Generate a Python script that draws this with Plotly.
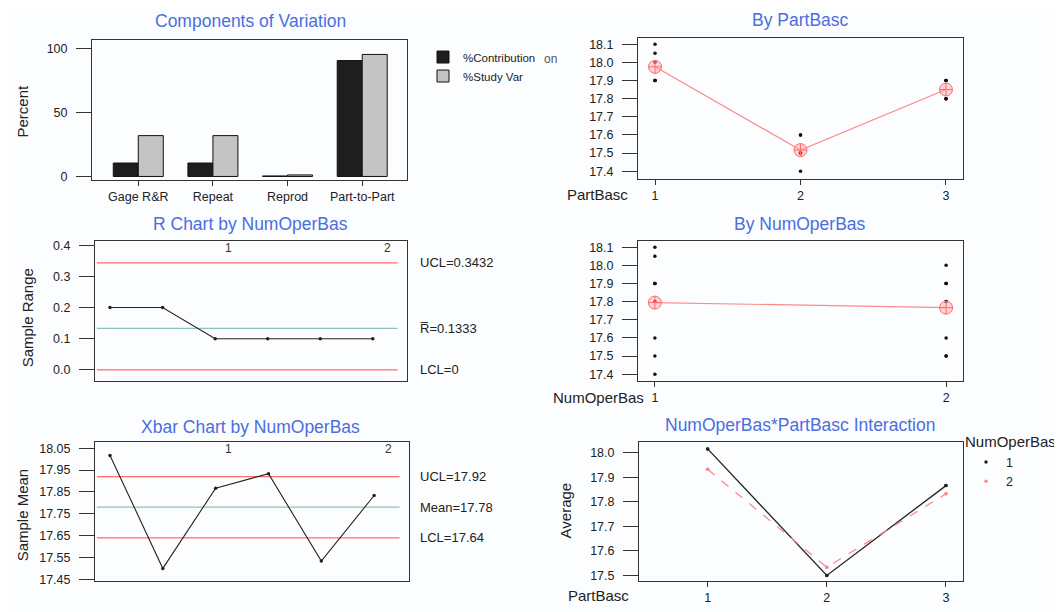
import plotly.graph_objects as go

# page body has an 8px margin, so the figure is drawn 8px smaller and shifted
OFF = 8
W, H = 1062 - OFF, 612 - OFF

# ---------------- data ----------------
components = ["Gage R&R", "Repeat", "Reprod", "Part-to-Part"]
pct_contribution = [10.5, 10.5, 0.4, 90.5]
pct_study_var = [31.9, 31.9, 1.2, 95.3]

parts = [1, 2, 3]
operators = [1, 2]
# trials for each operator, listed per part (part 1, part 2, part 3)
op1_trials = [[18.10, 18.05, 17.90], [17.60, 17.50, 17.40], [17.90, 17.90, 17.80]]
op2_trials = [[18.00, 17.90, 17.90], [17.60, 17.50, 17.50], [17.90, 17.80, 17.80]]

r_ucl, r_bar, r_lcl = 0.3432, 0.1333, 0.0
x_ucl, x_mean, x_lcl = 17.92, 17.78, 17.64
r_labels = ["UCL=0.3432", "R\u0305=0.1333", "LCL=0"]
x_labels = ["UCL=17.92", "Mean=17.78", "LCL=17.64"]

# ---------------- derived ----------------
trials_by_op = {1: op1_trials, 2: op2_trials}
sub_idx, sub_mean, sub_range = [], [], []
k = 1
for op in operators:
    for grp in trials_by_op[op]:
        sub_idx.append(k)
        sub_mean.append(sum(grp) / len(grp))
        sub_range.append(max(grp) - min(grp))
        k += 1

part_x, part_y, part_means = [], [], []
for i, p in enumerate(parts):
    vals = op1_trials[i] + op2_trials[i]
    part_x += [p] * len(vals)
    part_y += vals
    part_means.append(sum(vals) / len(vals))

op_x, op_y, op_means = [], [], []
for op in operators:
    vals = [v for grp in trials_by_op[op] for v in grp]
    op_x += [op] * len(vals)
    op_y += vals
    op_means.append(sum(vals) / len(vals))

inter_op1 = [sum(g) / len(g) for g in op1_trials]
inter_op2 = [sum(g) / len(g) for g in op2_trials]

# ---------------- styling helpers ----------------
BLUE = "#4a6ee0"
RED = "#ff6b6b"
TEAL = "#86c6b4"
SALMON = "#ff8a8a"
AX = "#333333"
FONT = "Liberation Sans, Arial, sans-serif"
TICK = 12.5


def px_x(a):
    return (a - OFF) / W


def px_y(a):
    return 1 - (a - OFF) / H


def dx(a, b):
    return [px_x(a), px_x(b)]


def dy(top, bottom):
    return [px_y(bottom), px_y(top)]


def base_axis(**kw):
    d = dict(showline=True, mirror=True, linecolor=AX, linewidth=1,
             showgrid=False, zeroline=False, ticks="outside", tickcolor=AX,
             tickwidth=1.2, tickfont=dict(size=TICK, color="#222", family=FONT))
    d.update(kw)
    return d


fig = go.Figure()

# Panel 1: components of variation
fig.add_trace(go.Bar(x=components, y=pct_contribution, name="%Contribution",
                     marker=dict(color="#1e1e1e", line=dict(color="#111", width=1)),
                     xaxis="x", yaxis="y", legend="legend"))
fig.add_trace(go.Bar(x=components, y=pct_study_var, name="%Study Var",
                     marker=dict(color="#c4c4c4", line=dict(color="#111", width=1)),
                     xaxis="x", yaxis="y", legend="legend"))

# Panel 2: by PartBasc
fig.add_trace(go.Scatter(x=part_x, y=part_y, mode="markers",
                         marker=dict(color="#111", size=3.5), showlegend=False,
                         xaxis="x2", yaxis="y2"))
fig.add_trace(go.Scatter(x=parts, y=part_means, mode="lines+markers",
                         line=dict(color=SALMON, width=1.2),
                         marker=dict(symbol="circle-cross", size=13,
                                     color="rgba(255,160,160,0.45)",
                                     line=dict(color=RED, width=1)),
                         showlegend=False, xaxis="x2", yaxis="y2"))

# Panel 3: R chart
fig.add_trace(go.Scatter(x=sub_idx, y=sub_range, mode="lines+markers",
                         line=dict(color="#222", width=1.1),
                         marker=dict(color="#222", size=3.5), showlegend=False,
                         xaxis="x3", yaxis="y3"))

# Panel 4: by NumOperBas
fig.add_trace(go.Scatter(x=op_x, y=op_y, mode="markers",
                         marker=dict(color="#111", size=3.5), showlegend=False,
                         xaxis="x4", yaxis="y4"))
fig.add_trace(go.Scatter(x=operators, y=op_means, mode="lines+markers",
                         line=dict(color=SALMON, width=1.2),
                         marker=dict(symbol="circle-cross", size=13,
                                     color="rgba(255,160,160,0.45)",
                                     line=dict(color=RED, width=1)),
                         showlegend=False, xaxis="x4", yaxis="y4"))

# Panel 5: Xbar chart
fig.add_trace(go.Scatter(x=sub_idx, y=sub_mean, mode="lines+markers",
                         line=dict(color="#222", width=1.1),
                         marker=dict(color="#222", size=3.5), showlegend=False,
                         xaxis="x5", yaxis="y5"))

# Panel 6: interaction
fig.add_trace(go.Scatter(x=parts, y=inter_op1, mode="lines+markers",
                         line=dict(color="#222", width=1.3),
                         marker=dict(color="#222", size=3.5), showlegend=False,
                         xaxis="x6", yaxis="y6"))
fig.add_trace(go.Scatter(x=parts, y=inter_op2, mode="lines+markers",
                         line=dict(color=SALMON, width=1.3, dash="dash"),
                         marker=dict(color=SALMON, size=3.5), showlegend=False,
                         xaxis="x6", yaxis="y6"))
fig.add_trace(go.Scatter(x=parts, y=inter_op1, mode="markers", name="1",
                         marker=dict(color="#222", size=3.5),
                         xaxis="x6", yaxis="y6", legend="legend2"))
fig.add_trace(go.Scatter(x=parts, y=inter_op2, mode="markers", name="2",
                         marker=dict(color=SALMON, size=3.5),
                         xaxis="x6", yaxis="y6", legend="legend2"))

# ---------------- axes ----------------
ystd = dict(ticklen=15, ticklabelstandoff=6)
layout_axes = dict(
    xaxis=base_axis(domain=dx(92, 407), anchor="y", type="category",
                    range=[-0.62, 3.6], ticklen=5),
    yaxis=base_axis(domain=dy(37, 180), anchor="x", range=[-3.1, 106.9],
                    tickvals=[0, 50, 100], **ystd),
    xaxis2=base_axis(domain=dx(638, 963), anchor="y2", range=[0.883, 3.117],
                     tickvals=parts, ticklen=5),
    yaxis2=base_axis(domain=dy(35, 179), anchor="x2", range=[17.355, 18.136],
                     tickvals=[17.4, 17.5, 17.6, 17.7, 17.8, 17.9, 18.0, 18.1],
                     tickformat=".1f", **ystd),
    xaxis3=base_axis(domain=dx(95, 407), anchor="y3", range=[0.714, 6.65],
                     ticks="", showticklabels=False),
    yaxis3=base_axis(domain=dy(241.7, 384), anchor="x3", range=[-0.037, 0.4126],
                     tickvals=[0.0, 0.1, 0.2, 0.3, 0.4], tickformat=".1f", **ystd),
    xaxis4=base_axis(domain=dx(638, 963), anchor="y4", range=[0.942, 2.058],
                     tickvals=operators, ticklen=5),
    yaxis4=base_axis(domain=dy(241.7, 384), anchor="x4", range=[17.36, 18.133],
                     tickvals=[17.4, 17.5, 17.6, 17.7, 17.8, 17.9, 18.0, 18.1],
                     tickformat=".1f", **ystd),
    xaxis5=base_axis(domain=dx(95, 409), anchor="y5", range=[0.716, 6.66],
                     ticks="", showticklabels=False),
    yaxis5=base_axis(domain=dy(446, 586.7), anchor="x5", range=[17.442, 18.076],
                     tickvals=[17.45, 17.55, 17.65, 17.75, 17.85, 17.95, 18.05],
                     tickformat=".2f", **ystd),
    xaxis6=base_axis(domain=dx(639, 963), anchor="y6", range=[0.424, 3.143],
                     tickvals=parts, ticklen=5),
    yaxis6=base_axis(domain=dy(445.7, 586.7), anchor="x6", range=[17.477, 18.044],
                     tickvals=[17.5, 17.6, 17.7, 17.8, 17.9, 18.0],
                     tickformat=".1f", **ystd),
)

# ---------------- shapes (control lines) ----------------
shapes = []
for xr, yr, vals in [("x3", "y3", [r_ucl, r_bar, r_lcl]),
                     ("x5", "y5", [x_ucl, x_mean, x_lcl])]:
    for v, c in zip(vals, [RED, TEAL, RED]):
        shapes.append(dict(type="line", xref=xr + " domain", yref=yr,
                           x0=0.006, x1=0.97, y0=v, y1=v,
                           line=dict(color=c, width=1.2), layer="below"))

# ---------------- annotations ----------------
ann = []


def text(t, xpx, ypx, size=12, color="#222", xanchor="center", angle=0):
    ann.append(dict(text=t, x=px_x(xpx), y=px_y(ypx), xref="paper", yref="paper",
                    showarrow=False, xanchor=xanchor, yanchor="middle",
                    textangle=angle, font=dict(size=size, color=color, family=FONT)))


TS = 17.5
text("Components of Variation", 250, 18, TS, BLUE)
text("By PartBasc", 800, 17, TS, BLUE)
text("R Chart by NumOperBas", 250, 224, TS, BLUE)
text("By NumOperBas", 800, 224, TS, BLUE)
text("Xbar Chart by NumOperBas", 250, 430, TS, BLUE)
text("NumOperBas*PartBasc Interaction", 800, 428, TS, BLUE)

text("Percent", 22, 110, 15, angle=-90)
text("Sample Range", 27, 320, 15, angle=-90)
text("Sample Mean", 22, 520, 15, angle=-90)
text("Average", 565, 515, 15, angle=-90)

text("PartBasc", 597, 194, 15)
text("NumOperBas", 598, 400, 15)
text("PartBasc", 598, 601, 15)
text("on", 542, 57, 12, "#555", xanchor="left")
text("NumOperBas", 963, 445, 15, xanchor="left")

for lab, v in zip(r_labels, [r_ucl, r_bar, r_lcl]):
    ann.append(dict(text=lab, x=px_x(418), y=v, xref="paper", yref="y3",
                    showarrow=False, xanchor="left", yanchor="middle",
                    font=dict(size=13, color="#222", family=FONT)))
for lab, v in zip(x_labels, [x_ucl, x_mean, x_lcl]):
    ann.append(dict(text=lab, x=px_x(418), y=v, xref="paper", yref="y5",
                    showarrow=False, xanchor="left", yanchor="middle",
                    font=dict(size=13, color="#222", family=FONT)))

for xr, yr in [("x3", "y3 domain"), ("x5", "y5 domain")]:
    for lab, xv in zip(["1", "2"], [3.25, 6.27]):
        ann.append(dict(text=lab, x=xv, y=0.955, xref=xr, yref=yr,
                        showarrow=False, xanchor="center", yanchor="middle",
                        font=dict(size=12, color="#333", family=FONT)))

fig.update_layout(
    width=W, height=H, autosize=False,
    margin=dict(l=0, r=0, t=0, b=0),
    paper_bgcolor="#fcfdff", plot_bgcolor="#fcfdff",
    font=dict(family=FONT, color="#222"),
    barmode="group", bargap=0.33, bargroupgap=0,
    shapes=shapes, annotations=ann,
    legend=dict(x=px_x(423), y=px_y(40), xanchor="left", yanchor="top",
                bgcolor="rgba(0,0,0,0)", font=dict(size=11.5), tracegroupgap=0),
    legend2=dict(x=px_x(966), y=px_y(451), xanchor="left", yanchor="top",
                 bgcolor="rgba(0,0,0,0)", font=dict(size=12.5), tracegroupgap=0),
    **layout_axes,
)

fig.write_html("out.html")
